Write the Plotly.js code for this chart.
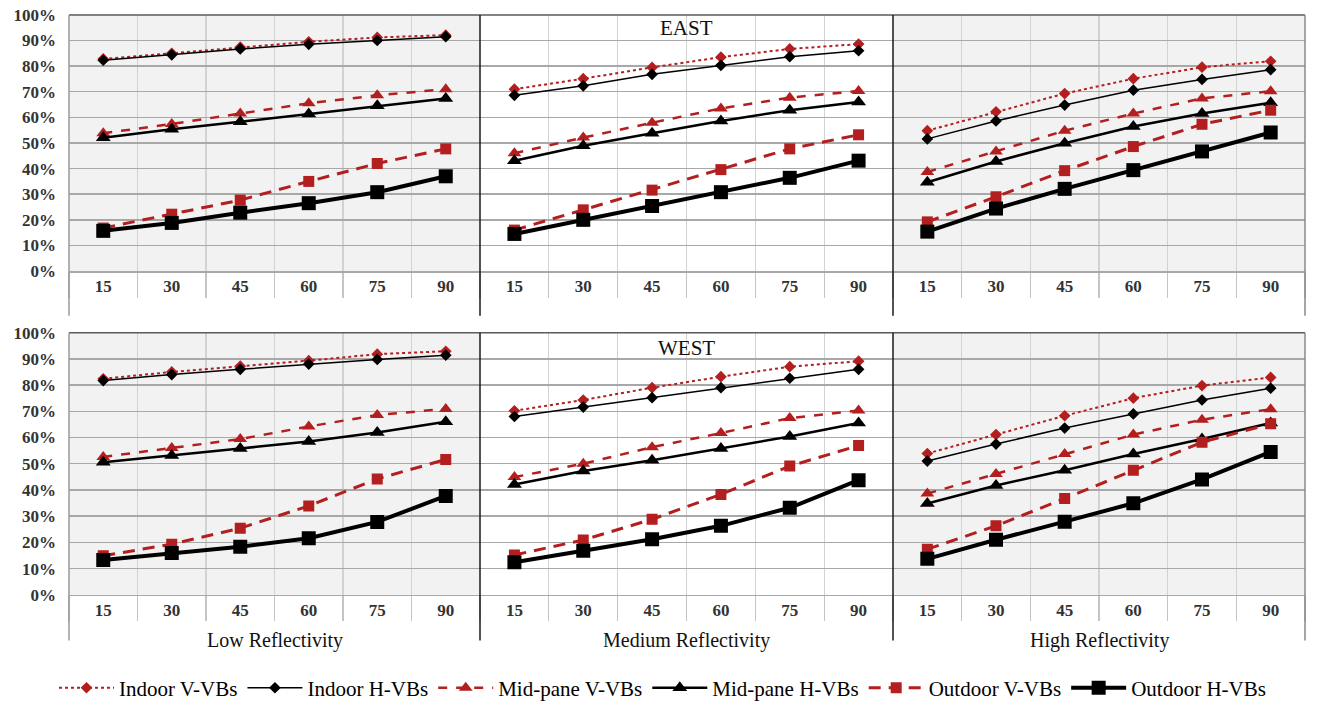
<!DOCTYPE html>
<html>
<head>
<meta charset="utf-8">
<script src="https://cdn.plot.ly/plotly-3.0.1.min.js"></script>
<style>html,body{margin:0;padding:0;background:#fff;}#chart{width:1325px;height:709px;}</style>
</head>
<body>
<div id="chart"></div>
<script>
// ---- DATA ----
const angles = ['15', '30', '45', '60', '75', '90'];
const seriesNames = ['Indoor V-VBs', 'Indoor H-VBs', 'Mid-pane V-VBs', 'Mid-pane H-VBs', 'Outdoor V-VBs', 'Outdoor H-VBs'];
const panelLabels = ['Low Reflectivity', 'Medium Reflectivity', 'High Reflectivity'];
const rowTitles = ['EAST', 'WEST'];

// EAST (top row) values in %
const eastLowIndoorV   = [82.8, 85.0, 87.4, 89.5, 91.2, 92.1];
const eastLowIndoorH   = [82.3, 84.4, 86.7, 88.5, 90.0, 91.5];
const eastLowMidV      = [53.8, 57.4, 61.5, 65.5, 68.6, 71.0];
const eastLowMidH      = [52.0, 55.4, 58.3, 61.3, 64.5, 67.4];
const eastLowOutV      = [16.8, 22.2, 27.7, 35.0, 42.0, 47.7];
const eastLowOutH      = [15.7, 18.8, 22.8, 26.5, 30.8, 37.0];

const eastMedIndoorV   = [71.0, 75.1, 79.5, 83.5, 86.7, 88.6];
const eastMedIndoorH   = [68.6, 72.3, 76.8, 80.3, 83.7, 86.0];
const eastMedMidV      = [46.0, 52.1, 57.9, 63.5, 67.7, 70.3];
const eastMedMidH      = [43.1, 48.9, 53.8, 58.6, 62.8, 66.0];
const eastMedOutV      = [16.0, 23.9, 31.6, 39.6, 47.7, 53.2];
const eastMedOutH      = [14.5, 20.0, 25.4, 30.8, 36.4, 43.1];

const eastHighIndoorV  = [54.8, 62.2, 69.3, 75.1, 79.6, 81.9];
const eastHighIndoorH  = [51.6, 58.6, 64.8, 70.6, 74.8, 78.6];
const eastHighMidV     = [38.7, 46.7, 54.8, 61.5, 67.4, 70.2];
const eastHighMidH     = [34.7, 42.8, 49.9, 56.4, 61.5, 65.7];
const eastHighOutV     = [19.2, 29.0, 39.2, 48.6, 57.3, 62.8];
const eastHighOutH     = [15.4, 24.4, 32.1, 39.4, 46.7, 54.1];

// WEST (bottom row) values in %
const westLowIndoorV   = [82.4, 85.0, 87.2, 89.3, 91.8, 92.9];
const westLowIndoorH   = [81.7, 84.0, 86.0, 88.0, 89.8, 91.4];
const westLowMidV      = [52.6, 56.0, 59.4, 64.2, 68.6, 70.9];
const westLowMidH      = [50.6, 53.1, 55.8, 58.5, 61.9, 66.0];
const westLowOutV      = [14.9, 19.3, 25.4, 33.9, 44.2, 51.6];
const westLowOutH      = [13.3, 15.9, 18.3, 21.6, 27.8, 37.7];

const westMedIndoorV   = [70.2, 74.3, 79.0, 83.2, 87.0, 89.1];
const westMedIndoorH   = [68.0, 71.6, 75.2, 79.0, 82.6, 86.0];
const westMedMidV      = [44.9, 50.0, 56.3, 61.7, 67.4, 70.3];
const westMedMidH      = [42.1, 47.2, 51.3, 55.8, 60.4, 65.5];
const westMedOutV      = [15.2, 20.9, 28.8, 38.3, 49.1, 56.9];
const westMedOutH      = [12.4, 16.8, 21.2, 26.3, 33.2, 43.7];

const westHighIndoorV  = [53.9, 61.1, 68.3, 75.0, 79.8, 82.9];
const westHighIndoorH  = [51.0, 57.5, 63.6, 69.0, 74.3, 78.8];
const westHighMidV     = [38.6, 46.1, 53.7, 61.1, 66.8, 70.8];
const westHighMidH     = [34.8, 41.7, 47.5, 53.7, 59.4, 65.5];
const westHighOutV     = [17.4, 26.3, 36.7, 47.5, 58.2, 65.2];
const westHighOutH     = [13.7, 21.0, 27.9, 34.9, 44.0, 54.5];

const panels = [
  [eastLowIndoorV, eastLowIndoorH, eastLowMidV, eastLowMidH, eastLowOutV, eastLowOutH],
  [eastMedIndoorV, eastMedIndoorH, eastMedMidV, eastMedMidH, eastMedOutV, eastMedOutH],
  [eastHighIndoorV, eastHighIndoorH, eastHighMidV, eastHighMidH, eastHighOutV, eastHighOutH],
  [westLowIndoorV, westLowIndoorH, westLowMidV, westLowMidH, westLowOutV, westLowOutH],
  [westMedIndoorV, westMedIndoorH, westMedMidV, westMedMidH, westMedOutV, westMedOutH],
  [westHighIndoorV, westHighIndoorH, westHighMidV, westHighMidH, westHighOutV, westHighOutH]
];

// ---- STYLES ----
const RED = '#b31e1e';
const BLK = '#000000';
const styles = [
  {color: RED, dash: 'dot',   width: 2,   symbol: 'diamond',     size: 9},
  {color: BLK, dash: 'solid', width: 1.5, symbol: 'diamond',     size: 9},
  {color: RED, dash: 'dash',  width: 2.5, symbol: 'triangle-up', size: 12},
  {color: BLK, dash: 'solid', width: 2.5, symbol: 'triangle-up', size: 13},
  {color: RED, dash: '12px,8px', width: 3, symbol: 'square',     size: 11},
  {color: BLK, dash: 'solid', width: 4,   symbol: 'square',      size: 14}
];

const W = 1325, H = 709;
const px = v => v / W;
const py = v => 1 - v / H;

const traces = [];
panels.forEach((p, pi) => {
  const suffix = pi === 0 ? '' : String(pi + 1);
  p.forEach((vals, si) => {
    const s = styles[si];
    traces.push({
      type: 'scatter', mode: 'lines+markers',
      x: angles, y: vals,
      xaxis: 'x' + suffix, yaxis: 'y' + suffix,
      name: seriesNames[si], legendgroup: seriesNames[si], showlegend: pi === 0,
      line: {color: s.color, dash: s.dash, width: s.width},
      marker: {color: s.color, symbol: s.symbol, size: s.size},
      hoverinfo: 'skip'
    });
  });
});

const colX = [[69, 480], [480, 893], [893, 1305]];
const rowY = [[15, 273], [335, 599]];
const serif = 'Liberation Serif';

const layout = {
  width: W, height: H,
  margin: {l: 0, r: 0, t: 0, b: 0},
  font: {family: serif},
  paper_bgcolor: '#ffffff',
  plot_bgcolor: '#f2f2f2',
  showlegend: true,
  legend: {
    orientation: 'h', x: 0.5, xanchor: 'center', y: py(693), yanchor: 'middle',
    font: {family: serif, size: 21, color: '#000'},
    itemwidth: 55, tracegroupgap: 0, bgcolor: 'rgba(0,0,0,0)'
  },
  shapes: [],
  annotations: []
};

for (let r = 0; r < 2; r++) {
  for (let c = 0; c < 3; c++) {
    const idx = r * 3 + c + 1;
    const sfx = idx === 1 ? '' : String(idx);
    layout['xaxis' + sfx] = {
      domain: [px(colX[c][0]), px(colX[c][1])],
      anchor: 'y' + sfx,
      type: 'category', categoryorder: 'array', categoryarray: angles,
      range: [-0.5, 5.5],
      tickson: 'boundaries',
      ticks: 'outside', ticklen: 25, tickwidth: 1.3, tickcolor: '#c4c4c4',
      ticklabelstandoff: -1,
      showgrid: true, gridcolor: '#d2d2d2', gridwidth: 1.3,
      showline: true, linecolor: '#a8a8a8', linewidth: 1.5,
      zeroline: false,
      tickfont: {family: serif, size: 17, color: '#333', weight: 'bold'},
      fixedrange: true
    };
    layout['yaxis' + sfx] = {
      domain: [py(rowY[r][1]), py(rowY[r][0])],
      anchor: 'x' + sfx,
      range: [0, 100], dtick: 10, tick0: 0,
      ticksuffix: '%',
      showticklabels: c === 0,
      ticks: '', ticklabelstandoff: 12,
      showgrid: true, gridcolor: '#a8a8a8', gridwidth: 1.5,
      zeroline: false, showline: false,
      tickfont: {family: serif, size: 17, color: '#333', weight: 'bold'},
      fixedrange: true
    };
    if (c === 1) {
      layout.shapes.push({
        type: 'rect', xref: 'x' + sfx + ' domain', yref: 'y' + sfx + ' domain',
        x0: 0, x1: 1, y0: 0, y1: 1, fillcolor: '#ffffff', line: {width: 0}, layer: 'below'
      });
    }
  }
}

// panel borders
const borderBottoms = [318, 645];
rowY.forEach((ry, r) => {
  const yTop = py(ry[0]), yBot = py(borderBottoms[r]);
  layout.shapes.push({type: 'line', xref: 'paper', yref: 'paper', x0: px(69), x1: px(1305), y0: yTop, y1: yTop, line: {color: '#5a5a5a', width: 1.5}});
  layout.shapes.push({type: 'line', xref: 'paper', yref: 'paper', x0: px(69), x1: px(69), y0: yTop, y1: yBot, line: {color: '#9a9a9a', width: 1.5}});
  layout.shapes.push({type: 'line', xref: 'paper', yref: 'paper', x0: px(480), x1: px(480), y0: yTop, y1: yBot, line: {color: '#1a1a1a', width: 1.5}});
  layout.shapes.push({type: 'line', xref: 'paper', yref: 'paper', x0: px(893), x1: px(893), y0: yTop, y1: yBot, line: {color: '#1a1a1a', width: 1.5}});
  layout.shapes.push({type: 'line', xref: 'paper', yref: 'paper', x0: px(1305), x1: px(1305), y0: yTop, y1: yBot, line: {color: '#8a8a8a', width: 1.5}});
});

// row titles
layout.annotations.push({text: rowTitles[0], xref: 'paper', yref: 'paper', x: px(686), y: py(28), xanchor: 'center', yanchor: 'middle', showarrow: false, font: {family: serif, size: 21, color: '#111'}});
layout.annotations.push({text: rowTitles[1], xref: 'paper', yref: 'paper', x: px(686), y: py(350), xanchor: 'center', yanchor: 'middle', showarrow: false, font: {family: serif, size: 21, color: '#111'}});
// panel labels
panelLabels.forEach((t, c) => {
  layout.annotations.push({text: t, xref: 'paper', yref: 'paper', x: px((colX[c][0] + colX[c][1]) / 2), y: py(645), xanchor: 'center', yanchor: 'middle', showarrow: false, font: {family: serif, size: 20, color: '#111'}});
});

Plotly.newPlot('chart', traces, layout, {displayModeBar: false, staticPlot: true});
</script>
</body>
</html>
